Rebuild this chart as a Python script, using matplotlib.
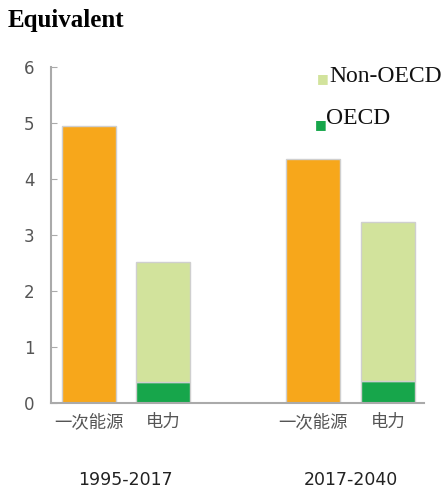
import matplotlib.pyplot as plt

# bar data
groups = ['1995-2017', '2017-2040']
categories = ['一次能源', '电力', '一次能源', '电力']
positions = [0, 1, 3.03, 4.05]
primary = [4.95, 4.36]          # 一次能源 per group
power_oecd = [0.37, 0.39]       # 电力, OECD share
power_total = [2.52, 3.23]      # 电力, total (OECD + Non-OECD)
power_non_oecd = [t - o for t, o in zip(power_total, power_oecd)]

orange = '#F7A71B'
light_green = '#D2E39C'
dark_green = '#17A64B'
edge = '#CFCFCF'

fig = plt.figure(figsize=(4.43, 4.91), dpi=100)
ax = fig.add_axes([51/443, 88/491, 373/443, 336/491])

w = 0.73
ax.bar([positions[0], positions[2]], primary, width=w, color=orange,
       edgecolor=edge, linewidth=1)
ax.bar([positions[1], positions[3]], power_oecd, width=w, color=dark_green,
       edgecolor=edge, linewidth=1)
ax.bar([positions[1], positions[3]], power_non_oecd, bottom=power_oecd,
       width=w, color=light_green, edgecolor=edge, linewidth=1)

ax.set_xlim(-0.51, 4.53)
ax.set_ylim(0, 6)
ax.set_yticks(range(7))
for s in ['top', 'right']:
    ax.spines[s].set_visible(False)
ax.spines['left'].set_color('#AAAAAA')
ax.spines['bottom'].set_color('#AAAAAA')
ax.spines['left'].set_linewidth(1.5)
ax.spines['bottom'].set_linewidth(1.5)
ax.tick_params(axis='y', direction='in', length=4, color='#AAAAAA',
               labelcolor='#555555', labelsize=12, pad=12)
ax.set_xticks(positions)
ax.set_xticklabels(categories, family=['Noto Sans CJK SC', 'DejaVu Sans'],
                   fontsize=12.5, color='#555555')
ax.tick_params(axis='x', length=0, pad=7)

# period labels under each group
for x, g in zip([(positions[0] + positions[1]) / 2, (positions[2] + positions[3]) / 2], groups):
    ax.text(x, -1.38, g, ha='center', va='center', fontsize=12.5, color='#222222',
            transform=ax.transData, clip_on=False)

# legend
fig.text(317/443, 1 - 79/491, '\u25a0', fontsize=9, color=light_green, va='center', ha='left')
fig.text(329/443, 1 - 77/491, 'Non-OECD', family='Liberation Serif', fontsize=17,
         va='center', ha='left', color='#111111')
fig.text(315/443, 1 - 125/491, '\u25a0', fontsize=9, color=dark_green, va='center', ha='left')
fig.text(326/443, 1 - 118/491, 'OECD', family='Liberation Serif', fontsize=17,
         va='center', ha='left', color='#111111')

fig.text(8/443, 1 - 20/491, 'Equivalent', family='Liberation Serif', fontsize=18,
         fontweight='bold', va='center', ha='left')

fig.savefig('out.png', dpi=100)
